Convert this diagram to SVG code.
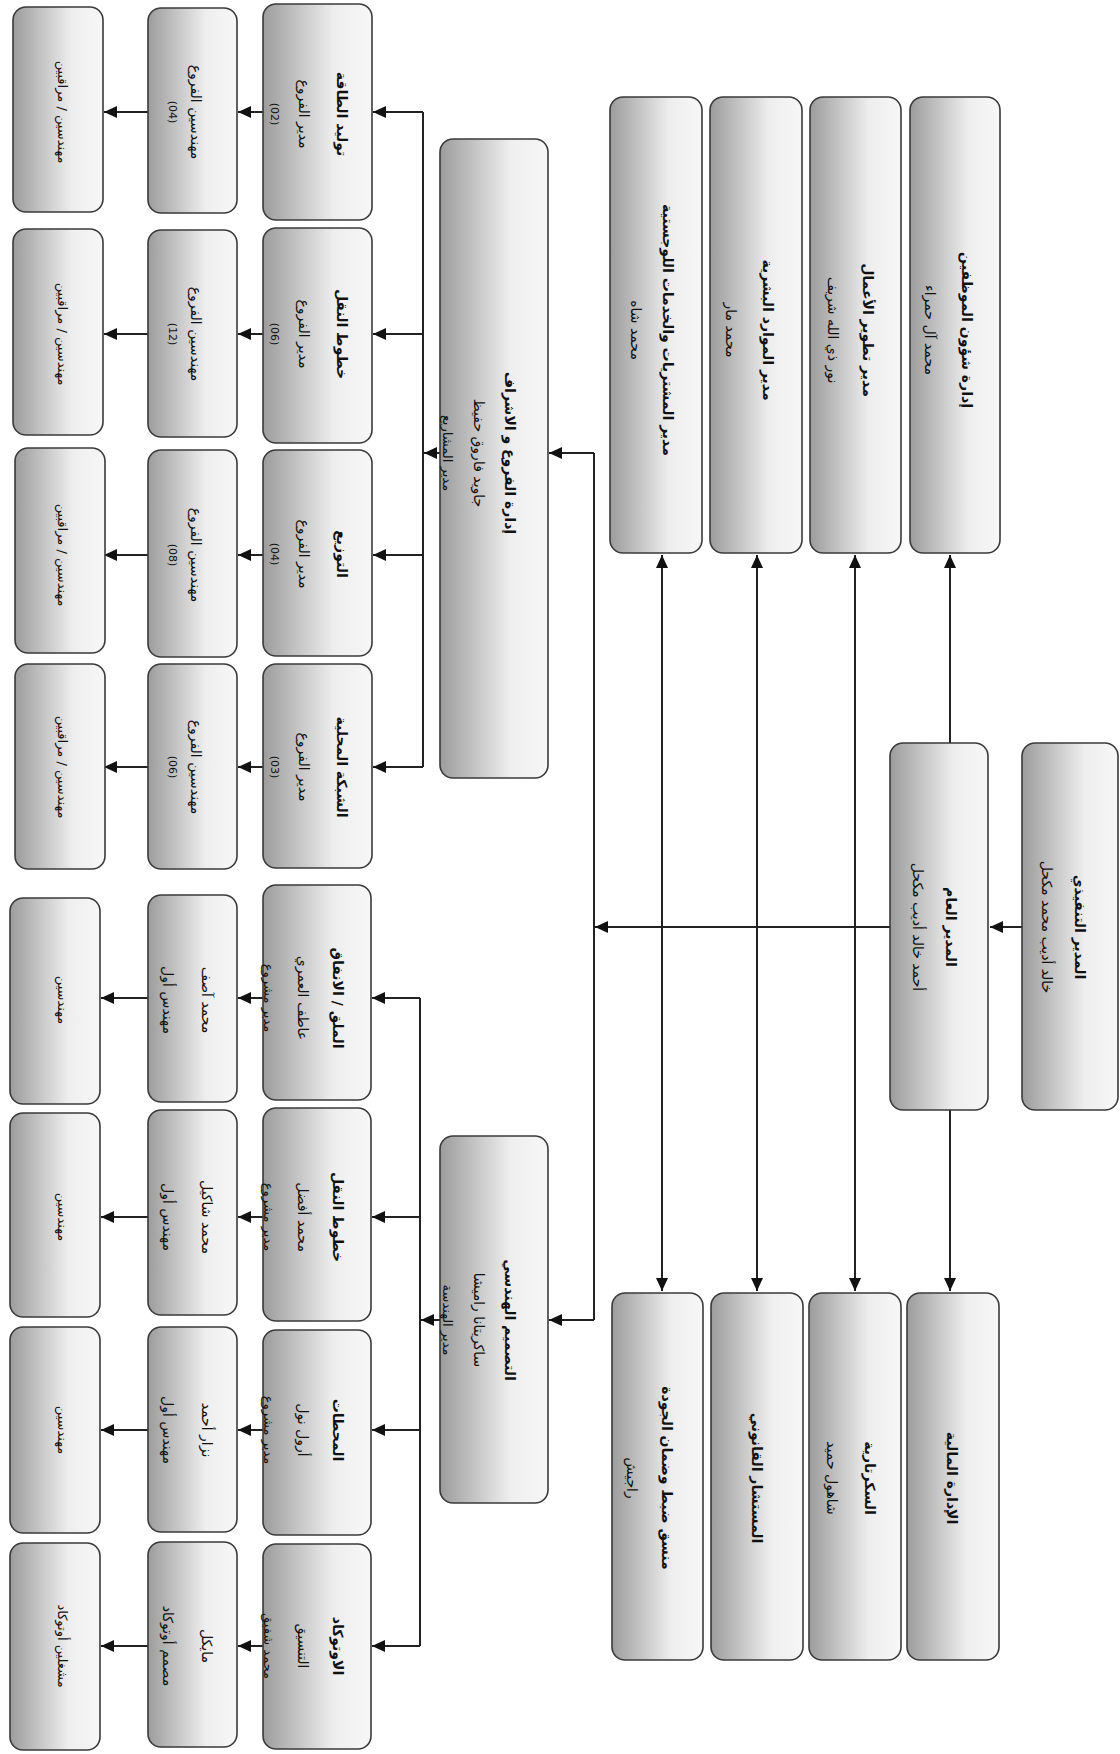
<svg xmlns="http://www.w3.org/2000/svg" width="1120" height="1754" viewBox="0 0 1120 1754">
<style>
.box{fill:url(#g);stroke:#3a3a3a;stroke-width:1.6}
.t{font-family:"DejaVu Sans",sans-serif;fill:#111;text-anchor:middle;dominant-baseline:central}
.b{font-size:14px;font-weight:bold}
.s{font-size:14px}
.xs{font-size:13px}
.n{font-size:11px}
.c{fill:none;stroke:#222;stroke-width:2}
</style>
<defs>
<linearGradient id="g" x1="0" y1="0" x2="1" y2="0">
<stop offset="0" stop-color="#9c9c9c"/>
<stop offset="0.65" stop-color="#eeeeee"/>
<stop offset="1" stop-color="#f7f7f7"/>
</linearGradient>
<marker id="a" markerUnits="userSpaceOnUse" markerWidth="14" markerHeight="12" refX="13" refY="6" orient="auto">
<path d="M0,0 L13,6 L0,12 Z" fill="#111"/>
</marker>
<marker id="as" markerUnits="userSpaceOnUse" markerWidth="14" markerHeight="12" refX="0" refY="6" orient="auto">
<path d="M13,0 L0,6 L13,12 Z" fill="#111"/>
</marker>
</defs>
<rect width="1120" height="1754" fill="#fff"/>

<g id="connectors">
<line class="c" x1="1022" y1="927" x2="990" y2="927" marker-end="url(#a)"/>
<line class="c" x1="890" y1="927" x2="595" y2="927" marker-end="url(#a)"/>
<line class="c" x1="950" y1="743" x2="950" y2="555" marker-end="url(#a)"/>
<line class="c" x1="950" y1="1110" x2="950" y2="1291" marker-end="url(#a)"/>
<line class="c" x1="855" y1="555" x2="855" y2="1291" marker-start="url(#as)" marker-end="url(#a)"/>
<line class="c" x1="757" y1="555" x2="757" y2="1291" marker-start="url(#as)" marker-end="url(#a)"/>
<line class="c" x1="662" y1="555" x2="662" y2="1291" marker-start="url(#as)" marker-end="url(#a)"/>
<line class="c" x1="594" y1="453" x2="594" y2="1320"/>
<line class="c" x1="594" y1="453" x2="549" y2="453" marker-end="url(#a)"/>
<line class="c" x1="594" y1="1320" x2="549" y2="1320" marker-end="url(#a)"/>
<line class="c" x1="440" y1="453" x2="424" y2="453" marker-end="url(#a)"/>
<line class="c" x1="423" y1="112" x2="423" y2="767"/>
<line class="c" x1="423" y1="112" x2="373" y2="112" marker-end="url(#a)"/>
<line class="c" x1="423" y1="334" x2="373" y2="334" marker-end="url(#a)"/>
<line class="c" x1="423" y1="555" x2="373" y2="555" marker-end="url(#a)"/>
<line class="c" x1="423" y1="767" x2="373" y2="767" marker-end="url(#a)"/>
<line class="c" x1="263" y1="112" x2="238" y2="112" marker-end="url(#a)"/>
<line class="c" x1="263" y1="334" x2="238" y2="334" marker-end="url(#a)"/>
<line class="c" x1="263" y1="555" x2="238" y2="555" marker-end="url(#a)"/>
<line class="c" x1="263" y1="767" x2="238" y2="767" marker-end="url(#a)"/>
<line class="c" x1="148" y1="112" x2="104" y2="112" marker-end="url(#a)"/>
<line class="c" x1="148" y1="334" x2="104" y2="334" marker-end="url(#a)"/>
<line class="c" x1="148" y1="555" x2="104" y2="555" marker-end="url(#a)"/>
<line class="c" x1="148" y1="767" x2="104" y2="767" marker-end="url(#a)"/>
<line class="c" x1="440" y1="1320" x2="421" y2="1320" marker-end="url(#a)"/>
<line class="c" x1="420" y1="998" x2="420" y2="1646"/>
<line class="c" x1="420" y1="998" x2="372" y2="998" marker-end="url(#a)"/>
<line class="c" x1="420" y1="1217" x2="372" y2="1217" marker-end="url(#a)"/>
<line class="c" x1="420" y1="1430" x2="372" y2="1430" marker-end="url(#a)"/>
<line class="c" x1="420" y1="1646" x2="372" y2="1646" marker-end="url(#a)"/>
<line class="c" x1="263" y1="998" x2="238" y2="998" marker-end="url(#a)"/>
<line class="c" x1="263" y1="1217" x2="238" y2="1217" marker-end="url(#a)"/>
<line class="c" x1="263" y1="1430" x2="238" y2="1430" marker-end="url(#a)"/>
<line class="c" x1="263" y1="1646" x2="238" y2="1646" marker-end="url(#a)"/>
<line class="c" x1="148" y1="998" x2="101" y2="998" marker-end="url(#a)"/>
<line class="c" x1="148" y1="1217" x2="101" y2="1217" marker-end="url(#a)"/>
<line class="c" x1="148" y1="1430" x2="101" y2="1430" marker-end="url(#a)"/>
<line class="c" x1="148" y1="1646" x2="101" y2="1646" marker-end="url(#a)"/>
</g>

<g id="exec"><rect class="box" x="1022" y="743" width="96" height="367" rx="13"/>
<text class="t b" transform="translate(1080,927) rotate(90)">المدير التنفيذي</text>
<text class="t s" transform="translate(1047,927) rotate(90)">خالد أديب محمد مكحل</text></g>

<g id="gm"><rect class="box" x="890" y="743" width="98" height="367" rx="13"/>
<text class="t b" transform="translate(951,927) rotate(90)">المدير العام</text>
<text class="t s" transform="translate(918,927) rotate(90)">أحمد خالد أديب مكحل</text></g>

<g id="hr"><rect class="box" x="910" y="97" width="90" height="456" rx="13"/>
<text class="t b" transform="translate(967,330) rotate(90)">إدارة شؤون الموظفين</text>
<text class="t s" transform="translate(930,330) rotate(90)">محمد آل حمراء</text></g>

<g id="bizdev"><rect class="box" x="810" y="97" width="91" height="456" rx="13"/>
<text class="t b" transform="translate(868,330) rotate(90)">مدير تطوير الأعمال</text>
<text class="t s" transform="translate(833,330) rotate(90)">نور ذي الله شريف</text></g>

<g id="hres"><rect class="box" x="710" y="97" width="92" height="456" rx="13"/>
<text class="t b" transform="translate(768,330) rotate(90)">مدير الموارد البشرية</text>
<text class="t s" transform="translate(731,330) rotate(90)">محمد مار</text></g>

<g id="procure"><rect class="box" x="610" y="97" width="92" height="456" rx="13"/>
<text class="t b" transform="translate(668,330) rotate(90)">مدير المشتريات والخدمات اللوجستية</text>
<text class="t s" transform="translate(636,330) rotate(90)">محمد شاه</text></g>

<g id="finance"><rect class="box" x="907" y="1293" width="92" height="367" rx="13"/>
<text class="t b" transform="translate(952,1478) rotate(90)">الإدارة المالية</text></g>

<g id="secretary"><rect class="box" x="809" y="1293" width="92" height="367" rx="13"/>
<text class="t b" transform="translate(870,1478) rotate(90)">السكرتارية</text>
<text class="t s" transform="translate(832,1478) rotate(90)">شاهول حميد</text></g>

<g id="legal"><rect class="box" x="711" y="1293" width="92" height="367" rx="13"/>
<text class="t b" transform="translate(757,1478) rotate(90)">المستشار القانوني</text></g>

<g id="quality"><rect class="box" x="612" y="1293" width="91" height="367" rx="13"/>
<text class="t b" transform="translate(667,1478) rotate(90)">منسق ضبط وضمان الجودة</text>
<text class="t s" transform="translate(632,1478) rotate(90)">راجيش</text></g>

<g id="branches"><rect class="box" x="440" y="139" width="108" height="639" rx="13"/>
<text class="t b" transform="translate(510,453) rotate(90)">إدارة الفروع و الاشراف</text>
<text class="t s" transform="translate(479,453) rotate(90)">جاويد فاروق حفيظ</text>
<text class="t xs" transform="translate(447,453) rotate(90)">مدير المشاريع</text></g>

<g id="engdesign"><rect class="box" x="440" y="1136" width="108" height="367" rx="13"/>
<text class="t b" transform="translate(510,1320) rotate(90)">التصميم الهندسي</text>
<text class="t s" transform="translate(479,1320) rotate(90)">ساكريتانا راميشا</text>
<text class="t xs" transform="translate(447,1320) rotate(90)">مدير الهندسة</text></g>

<g id="gen"><rect class="box" x="263" y="4" width="109" height="216" rx="13"/>
<text class="t b" transform="translate(342,114) rotate(90)">توليد الطاقة</text>
<text class="t s" transform="translate(304,114) rotate(90)">مدير الفروع</text>
<text class="t n" transform="translate(274,114) rotate(90)">(02)</text></g>
<g id="trans"><rect class="box" x="263" y="228" width="109" height="215" rx="13"/>
<text class="t b" transform="translate(342,334) rotate(90)">خطوط النقل</text>
<text class="t s" transform="translate(304,334) rotate(90)">مدير الفروع</text>
<text class="t n" transform="translate(274,334) rotate(90)">(06)</text></g>
<g id="dist"><rect class="box" x="263" y="450" width="109" height="206" rx="13"/>
<text class="t b" transform="translate(342,554) rotate(90)">التوزيع</text>
<text class="t s" transform="translate(304,554) rotate(90)">مدير الفروع</text>
<text class="t n" transform="translate(274,554) rotate(90)">(04)</text></g>
<g id="local"><rect class="box" x="263" y="664" width="109" height="204" rx="13"/>
<text class="t b" transform="translate(342,767) rotate(90)">الشبكة المحلية</text>
<text class="t s" transform="translate(304,767) rotate(90)">مدير الفروع</text>
<text class="t n" transform="translate(274,767) rotate(90)">(03)</text></g>

<g id="eng1"><rect class="box" x="148" y="8" width="89" height="205" rx="13"/>
<text class="t s" transform="translate(196,112) rotate(90)">مهندسين الفروع</text>
<text class="t n" transform="translate(172,112) rotate(90)">(04)</text></g>
<g id="eng2"><rect class="box" x="148" y="230" width="89" height="207" rx="13"/>
<text class="t s" transform="translate(196,334) rotate(90)">مهندسين الفروع</text>
<text class="t n" transform="translate(172,334) rotate(90)">(12)</text></g>
<g id="eng3"><rect class="box" x="148" y="450" width="89" height="207" rx="13"/>
<text class="t s" transform="translate(196,555) rotate(90)">مهندسين الفروع</text>
<text class="t n" transform="translate(172,555) rotate(90)">(08)</text></g>
<g id="eng4"><rect class="box" x="148" y="664" width="89" height="205" rx="13"/>
<text class="t s" transform="translate(196,767) rotate(90)">مهندسين الفروع</text>
<text class="t n" transform="translate(172,767) rotate(90)">(06)</text></g>

<g id="sup1"><rect class="box" x="13" y="7" width="90" height="205" rx="13"/>
<text class="t xs" transform="translate(62,112) rotate(90)">مهندسين / مراقبين</text></g>
<g id="sup2"><rect class="box" x="13" y="229" width="90" height="206" rx="13"/>
<text class="t xs" transform="translate(62,334) rotate(90)">مهندسين / مراقبين</text></g>
<g id="sup3"><rect class="box" x="15" y="448" width="90" height="205" rx="13"/>
<text class="t xs" transform="translate(62,555) rotate(90)">مهندسين / مراقبين</text></g>
<g id="sup4"><rect class="box" x="15" y="664" width="90" height="205" rx="13"/>
<text class="t xs" transform="translate(62,767) rotate(90)">مهندسين / مراقبين</text></g>

<g id="tunnel"><rect class="box" x="263" y="885" width="108" height="215" rx="13"/>
<text class="t b" transform="translate(338,998) rotate(90)">الملق / الانفاق</text>
<text class="t s" transform="translate(303,998) rotate(90)">عاطف العمري</text>
<text class="t xs" transform="translate(268,998) rotate(90)">مدير مشروع</text></g>
<g id="tlines"><rect class="box" x="263" y="1108" width="108" height="213" rx="13"/>
<text class="t b" transform="translate(338,1217) rotate(90)">خطوط النقل</text>
<text class="t s" transform="translate(303,1217) rotate(90)">محمد أفضل</text>
<text class="t xs" transform="translate(268,1217) rotate(90)">مدير مشروع</text></g>
<g id="substations"><rect class="box" x="263" y="1330" width="108" height="205" rx="13"/>
<text class="t b" transform="translate(338,1430) rotate(90)">المحطات</text>
<text class="t s" transform="translate(303,1430) rotate(90)">أرول نول</text>
<text class="t xs" transform="translate(268,1430) rotate(90)">مدير مشروع</text></g>
<g id="autocad"><rect class="box" x="263" y="1544" width="108" height="205" rx="13"/>
<text class="t b" transform="translate(338,1646) rotate(90)">الاوتوكاد</text>
<text class="t s" transform="translate(303,1646) rotate(90)">التنسيق</text>
<text class="t xs" transform="translate(268,1646) rotate(90)">محمد شفيق</text></g>

<g id="e1"><rect class="box" x="148" y="895" width="89" height="207" rx="13"/>
<text class="t s" transform="translate(207,1000) rotate(90)">محمد آصف</text>
<text class="t s" transform="translate(168,1000) rotate(90)">مهندس أول</text></g>
<g id="e2"><rect class="box" x="148" y="1110" width="89" height="205" rx="13"/>
<text class="t s" transform="translate(207,1217) rotate(90)">محمد شاكيل</text>
<text class="t s" transform="translate(168,1217) rotate(90)">مهندس أول</text></g>
<g id="e3"><rect class="box" x="148" y="1327" width="89" height="205" rx="13"/>
<text class="t s" transform="translate(207,1430) rotate(90)">نزار أحمد</text>
<text class="t s" transform="translate(168,1430) rotate(90)">مهندس أول</text></g>
<g id="e4"><rect class="box" x="148" y="1542" width="89" height="205" rx="13"/>
<text class="t s" transform="translate(207,1646) rotate(90)">مايكل</text>
<text class="t s" transform="translate(168,1646) rotate(90)">مصمم أوتوكاد</text></g>

<g id="w1"><rect class="box" x="10" y="898" width="90" height="206" rx="13"/>
<text class="t xs" transform="translate(62,1000) rotate(90)">مهندسين</text></g>
<g id="w2"><rect class="box" x="10" y="1113" width="90" height="204" rx="13"/>
<text class="t xs" transform="translate(62,1217) rotate(90)">مهندسين</text></g>
<g id="w3"><rect class="box" x="10" y="1327" width="90" height="206" rx="13"/>
<text class="t xs" transform="translate(62,1430) rotate(90)">مهندسين</text></g>
<g id="w4"><rect class="box" x="10" y="1543" width="90" height="207" rx="13"/>
<text class="t xs" transform="translate(62,1646) rotate(90)">مشغلين أوتوكاد</text></g>
</svg>
